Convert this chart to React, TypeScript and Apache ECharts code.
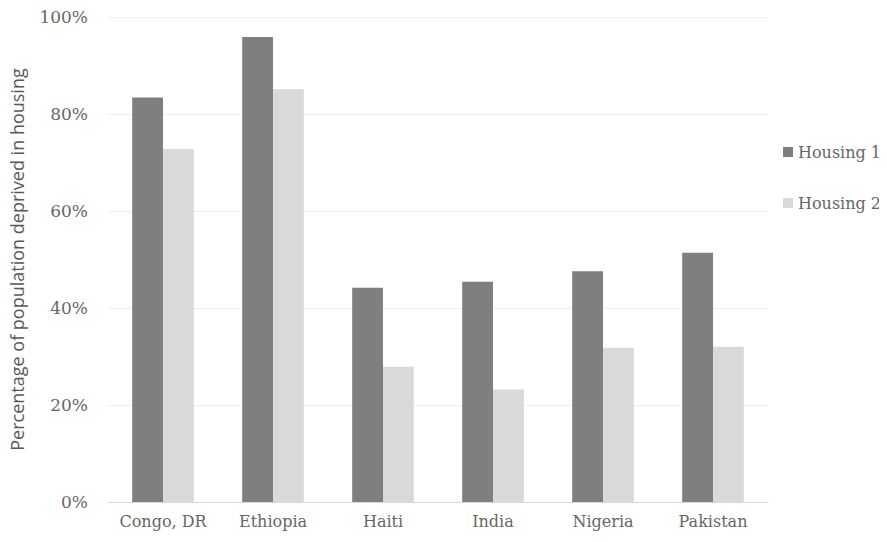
import React, { useEffect, useRef } from "react";
import * as echarts from "echarts";

const categories = ["Congo, DR", "Ethiopia", "Haiti", "India", "Nigeria", "Pakistan"];
const housing1 = [83.4, 95.9, 44.2, 45.4, 47.6, 51.4];
const housing2 = [72.8, 85.1, 27.9, 23.2, 31.8, 32.0];
const yTicks = [0, 20, 40, 60, 80, 100];

export default function App() {
  const ref = useRef<HTMLDivElement>(null);
  useEffect(() => {
    const chart = echarts.init(ref.current!, null, { renderer: "svg" });
    const serif = "DejaVu Serif";
    chart.setOption({
      animation: false,
      grid: { left: 108, right: 119, top: 17, bottom: 40, containLabel: false },
      legend: {
        orient: "vertical",
        left: 778,
        top: 139,
        itemWidth: 10,
        itemHeight: 10,
        itemGap: 35,
        icon: "rect",
        textStyle: { fontFamily: serif, fontSize: 16, color: "#666666" },
        data: ["Housing 1", "Housing 2"],
      },
      xAxis: {
        type: "category",
        data: categories,
        axisLine: { lineStyle: { color: "#d9d9d9", width: 1 } },
        axisTick: { show: false },
        axisLabel: { fontFamily: serif, fontSize: 16, color: "#666666", margin: 11, interval: 0 },
      },
      yAxis: {
        type: "value",
        min: yTicks[0],
        max: yTicks[yTicks.length - 1],
        interval: 20,
        name: "Percentage of population deprived in housing",
        nameLocation: "middle",
        nameGap: 82,
        nameTextStyle: { fontFamily: "Open Sans", fontSize: 18, color: "#595959" },
        axisLine: { show: false },
        axisTick: { show: false },
        splitLine: { lineStyle: { color: "#efefef", width: 1 } },
        axisLabel: {
          fontFamily: serif,
          fontSize: 17,
          color: "#666666",
          margin: 20,
          formatter: (v: number) => v + "%",
        },
      },
      series: [
        {
          name: "Housing 1",
          type: "bar",
          data: housing1,
          barGap: "0%",
          barCategoryGap: "44%",
          itemStyle: { color: "#7f7f7f" },
        },
        {
          name: "Housing 2",
          type: "bar",
          data: housing2,
          itemStyle: { color: "#d9d9d9" },
        },
      ],
    });
    return () => chart.dispose();
  }, []);
  return <div ref={ref} style={{ width: 887, height: 542, margin: -8 }} />;
}
